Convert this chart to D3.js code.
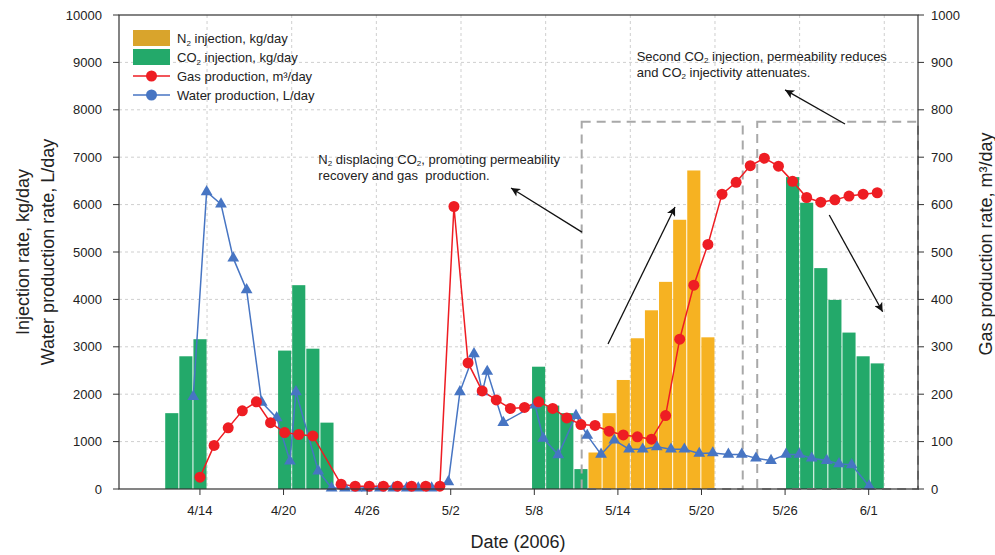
<!DOCTYPE html>
<html>
<head>
<meta charset="utf-8">
<script src="https://cdn.jsdelivr.net/npm/d3@7"></script>
<style>
  body { margin: 0; background: #fff; }
  svg { font-family: "Liberation Sans", Arial, sans-serif; }
  text { white-space: pre; }
</style>
</head>
<body>
<script>
// days are counted from 31 March 2006: 4/14 = 14, 5/2 = 32, 6/1 = 62
var tickDays = [14, 20, 26, 32, 38, 44, 50, 56, 62];
var tickLabels = ["4/14", "4/20", "4/26", "5/2", "5/8", "5/14", "5/20", "5/26", "6/1"];

var co2Days = [12, 13, 14, 20, 21, 22, 23, 38, 39, 40, 41, 56, 57, 58, 59, 60, 61, 62];
var co2Values = [1600, 2800, 3160, 2920, 4300, 2960, 1400, 2580, 1760, 1600, 420,
  6580, 6040, 4660, 3990, 3300, 2800, 2650];

var n2Days = [42, 43, 44, 45, 46, 47, 48, 49, 50];
var n2Values = [770, 1600, 2300, 3180, 3770, 4370, 5680, 6720, 3200];

var gasDays = [14, 15, 16, 17, 18, 19, 20, 21, 22,
  24, 25, 26, 27, 28, 29, 30, 31, 32, 33, 34, 35, 36, 37, 38, 39, 40, 41, 42, 43,
  44, 45, 46, 47, 48, 49, 50, 51, 52, 53, 54, 55, 56, 57, 58, 59, 60, 61, 62];
var gasValues = [25, 92, 129, 165, 184, 140, 119, 115, 112,
  10, 6, 6, 6, 6, 6, 6, 6, 596, 266, 207, 188, 170, 172, 184, 170, 150, 136, 134, 122,
  114, 110, 105, 155, 316, 430, 516, 622, 647, 682, 698, 681, 649, 615, 605, 610, 618, 622, 625];

// water samples were logged at irregular times
var waterDays = [13.52, 14.48, 15.51, 16.39, 17.35, 18.43, 19.51, 20.46, 20.89, 22.49,
  23.45, 24.41, 25.25, 25.97, 26.92, 27.88, 28.84, 29.67, 30.63, 31.83,
  32.66, 33.67, 34.27, 34.62, 35.77, 38.05, 38.64, 39.72, 40.99, 41.80,
  42.79, 43.74, 44.80, 45.78, 46.79, 47.81, 48.77, 49.84, 50.81, 51.93,
  52.89, 53.91, 54.99, 56.07, 57.02, 57.91, 58.99, 59.87, 60.78, 62.03];
var waterValues = [1950, 6270, 6010, 4870, 4200, 1830, 1500, 590, 2050, 380,
  20, 20, 20, 20, 20, 20, 20, 20, 20, 150,
  2050, 2850, 2050, 2480, 1400, 1770, 1070, 720, 1550, 1130,
  730, 1030, 840, 840, 890, 840, 840, 750, 760, 730,
  730, 650, 600, 730, 730, 650, 600, 530, 510, 60];

var CHART = {
  w: 995,
  h: 555,
  left: 119,
  right: 918,
  top: 15,
  bottom: 489,

  colors: {
    n2: "#F6B222",
    n2Legend: "#D9A42C",
    co2: "#23A96A",
    gas: "#EE1D23",
    water: "#4775C3",
    grid: "#cfcfcf",
    box: "#a8a8a8"
  },

  init: function() {
    this.svg = d3.select("body")
      .append("svg")
      .attr("width", this.w)
      .attr("height", this.h);

    // axis scale for dates, and the daily scale used by bars and gas points
    this.x = d3.scaleLinear().domain([8.19, 65.54]).range([this.left, this.right]);
    this.xDay = d3.scaleLinear().domain([8.26, 64.89]).range([this.left, this.right]);
    this.yL = d3.scaleLinear().domain([0, 10000]).range([this.bottom, this.top]);
    this.yR = d3.scaleLinear().domain([0, 1000]).range([this.bottom, this.top]);

    this.defs();
    this.drawGrid();
    this.drawBars();
    this.drawBoxes();
    this.drawLines();
    this.drawAxes();
    this.drawNotes();
    this.drawLegend();
  },

  rich: function(sel, str) {
    // "_2" in a string means a subscript digit
    var parts = str.split(/(_\d)/);
    var shifted = false;
    parts.forEach(function(p) {
      if (!p) return;
      if (p.charAt(0) === "_") {
        sel.append("tspan").attr("font-size", "0.62em").attr("dy", 2.5).text(p.slice(1));
        shifted = true;
      } else {
        sel.append("tspan").attr("dy", shifted ? -2.5 : 0).text(p);
        shifted = false;
      }
    });
  },

  defs: function() {
    this.svg.append("defs")
      .append("marker")
      .attr("id", "head")
      .attr("viewBox", "0 0 10 10")
      .attr("refX", 10)
      .attr("refY", 5)
      .attr("markerWidth", 12)
      .attr("markerHeight", 9)
      .attr("markerUnits", "userSpaceOnUse")
      .attr("orient", "auto")
      .append("path")
      .attr("d", "M0,0 L10,5 L0,10 L2.5,5 Z")
      .attr("fill", "#111");
  },

  drawGrid: function() {
    var self = this;
    var g = this.svg.append("g");

    g.selectAll("line.h")
      .data(d3.range(1000, 10000, 1000))
      .enter()
      .append("line")
      .attr("x1", this.left)
      .attr("x2", this.right)
      .attr("y1", function(d) { return self.yL(d); })
      .attr("y2", function(d) { return self.yL(d); })
      .attr("stroke", this.colors.grid)
      .attr("stroke-dasharray", "3,3");

    // vertical grid sits on the day boundaries after each labelled date
    g.selectAll("line.v")
      .data(tickDays)
      .enter()
      .append("line")
      .attr("x1", function(d) { return self.xDay(d + 0.5); })
      .attr("x2", function(d) { return self.xDay(d + 0.5); })
      .attr("y1", this.top)
      .attr("y2", this.bottom)
      .attr("stroke", this.colors.grid)
      .attr("stroke-dasharray", "3,3");
  },

  drawBars: function() {
    var self = this;
    var bw = this.xDay(1) - this.xDay(0) - 1;

    this.svg.append("g")
      .selectAll("rect")
      .data(n2Days)
      .enter()
      .append("rect")
      .attr("x", function(d) { return self.xDay(d) - bw / 2; })
      .attr("y", function(d, i) { return self.yL(n2Values[i]); })
      .attr("width", bw)
      .attr("height", function(d, i) { return self.bottom - self.yL(n2Values[i]); })
      .attr("fill", this.colors.n2);

    this.svg.append("g")
      .selectAll("rect")
      .data(co2Days)
      .enter()
      .append("rect")
      .attr("x", function(d) { return self.xDay(d) - bw / 2; })
      .attr("y", function(d, i) { return self.yL(co2Values[i]); })
      .attr("width", bw)
      .attr("height", function(d, i) { return self.bottom - self.yL(co2Values[i]); })
      .attr("fill", this.colors.co2);
  },

  drawBoxes: function() {
    var self = this;
    var boxes = [[41.4, 52.96], [54.0, 65.54]];
    this.svg.append("g")
      .selectAll("rect")
      .data(boxes)
      .enter()
      .append("rect")
      .attr("x", function(d) { return self.x(d[0]); })
      .attr("y", this.yL(7750))
      .attr("width", function(d) { return self.x(d[1]) - self.x(d[0]); })
      .attr("height", this.bottom - this.yL(7750))
      .attr("fill", "none")
      .attr("stroke", this.colors.box)
      .attr("stroke-width", 2)
      .attr("stroke-dasharray", "9,6");
  },

  drawLines: function() {
    var self = this;

    var gas = gasDays.map(function(d, i) { return [self.xDay(d), self.yR(gasValues[i])]; });
    var water = waterDays.map(function(d, i) { return [self.x(d), self.yL(waterValues[i])]; });

    this.svg.append("path")
      .attr("d", d3.line()(water))
      .attr("fill", "none")
      .attr("stroke", this.colors.water)
      .attr("stroke-width", 1.5);

    this.svg.append("path")
      .attr("d", d3.line()(gas))
      .attr("fill", "none")
      .attr("stroke", this.colors.gas)
      .attr("stroke-width", 1.5);

    this.svg.append("g")
      .selectAll("path")
      .data(water)
      .enter()
      .append("path")
      .attr("d", d3.symbol().type(d3.symbolTriangle).size(60))
      .attr("transform", function(d) { return "translate(" + d[0] + "," + d[1] + ")"; })
      .attr("fill", this.colors.water);

    this.svg.append("g")
      .selectAll("circle")
      .data(gas)
      .enter()
      .append("circle")
      .attr("cx", function(d) { return d[0]; })
      .attr("cy", function(d) { return d[1]; })
      .attr("r", 5.5)
      .attr("fill", this.colors.gas);
  },

  drawAxes: function() {
    var self = this;
    var g = this.svg.append("g").attr("font-size", "13px").attr("fill", "#222");

    g.append("rect")
      .attr("x", this.left)
      .attr("y", this.top)
      .attr("width", this.right - this.left)
      .attr("height", this.bottom - this.top)
      .attr("fill", "none")
      .attr("stroke", "#333")
      .attr("stroke-width", 1.2);

    var leftTicks = d3.range(0, 10001, 1000);
    g.selectAll("line.lt")
      .data(leftTicks)
      .enter()
      .append("line")
      .attr("x1", this.left - 6)
      .attr("x2", this.left)
      .attr("y1", function(d) { return self.yL(d); })
      .attr("y2", function(d) { return self.yL(d); })
      .attr("stroke", "#333");
    g.selectAll("text.lt")
      .data(leftTicks)
      .enter()
      .append("text")
      .text(function(d) { return d; })
      .attr("x", this.left - 17)
      .attr("y", function(d) { return self.yL(d) + 4.5; })
      .attr("text-anchor", "end");

    var rightTicks = d3.range(0, 1001, 100);
    g.selectAll("line.rt")
      .data(rightTicks)
      .enter()
      .append("line")
      .attr("x1", this.right)
      .attr("x2", this.right + 6)
      .attr("y1", function(d) { return self.yR(d); })
      .attr("y2", function(d) { return self.yR(d); })
      .attr("stroke", "#333");
    g.selectAll("text.rt")
      .data(rightTicks)
      .enter()
      .append("text")
      .text(function(d) { return d; })
      .attr("x", this.right + 13)
      .attr("y", function(d) { return self.yR(d) + 4.5; });

    g.selectAll("line.bt")
      .data(tickDays)
      .enter()
      .append("line")
      .attr("x1", function(d) { return self.x(d); })
      .attr("x2", function(d) { return self.x(d); })
      .attr("y1", this.bottom)
      .attr("y2", this.bottom + 6)
      .attr("stroke", "#333");
    g.selectAll("text.bt")
      .data(tickDays)
      .enter()
      .append("text")
      .text(function(d, i) { return tickLabels[i]; })
      .attr("x", function(d) { return self.x(d); })
      .attr("y", this.bottom + 26)
      .attr("text-anchor", "middle");

    var titles = this.svg.append("g").attr("font-size", "18px").attr("fill", "#222");
    titles.append("text")
      .text("Date (2006)")
      .attr("x", 518)
      .attr("y", 548)
      .attr("text-anchor", "middle");
    titles.append("text")
      .text("Injection rate, kg/day")
      .attr("transform", "translate(29,252) rotate(-90)")
      .attr("text-anchor", "middle");
    titles.append("text")
      .text("Water production rate, L/day")
      .attr("transform", "translate(54,252) rotate(-90)")
      .attr("text-anchor", "middle");
    titles.append("text")
      .text("Gas production rate, m³/day")
      .attr("transform", "translate(992,244) rotate(-90)")
      .attr("text-anchor", "middle");
  },

  drawNotes: function() {
    var self = this;
    var g = this.svg.append("g").attr("font-size", "13px").attr("fill", "#222");

    var notes = [
      { day: 22.5, value: 6860, lines: ["N_2 displacing CO_2, promoting permeability", "recovery and gas  production."] },
      { day: 45.35, value: 9030, lines: ["Second CO_2 injection, permeability reduces", "and CO_2 injectivity attenuates."] }
    ];
    notes.forEach(function(n) {
      n.lines.forEach(function(line, i) {
        var t = g.append("text")
          .attr("x", self.x(n.day))
          .attr("y", self.yL(n.value) + i * 16);
        self.rich(t, line);
      });
    });

    var arrows = [
      [41.42, 5420, 36.33, 6350],
      [43.29, 3060, 48.1, 5950],
      [60.3, 7700, 56.0, 8420],
      [59.17, 5780, 63.0, 3740]
    ];
    g.selectAll("line.arrow")
      .data(arrows)
      .enter()
      .append("line")
      .attr("x1", function(d) { return self.x(d[0]); })
      .attr("y1", function(d) { return self.yL(d[1]); })
      .attr("x2", function(d) { return self.x(d[2]); })
      .attr("y2", function(d) { return self.yL(d[3]); })
      .attr("stroke", "#111")
      .attr("stroke-width", 1.3)
      .attr("marker-end", "url(#head)");
  },

  drawLegend: function() {
    var self = this;
    var items = [
      { label: "N_2 injection, kg/day", kind: "bar", color: this.colors.n2Legend },
      { label: "CO_2 injection, kg/day", kind: "bar", color: this.colors.co2 },
      { label: "Gas production, m³/day", kind: "circle", color: this.colors.gas },
      { label: "Water production, L/day", kind: "circle", color: this.colors.water }
    ];

    var g = this.svg.append("g").attr("font-size", "13px").attr("fill", "#222");
    items.forEach(function(it, i) {
      var cy = 38 + i * 19;
      if (it.kind === "bar") {
        g.append("rect")
          .attr("x", 133)
          .attr("y", cy - 8)
          .attr("width", 37)
          .attr("height", 16)
          .attr("fill", it.color);
      } else {
        g.append("line")
          .attr("x1", 133)
          .attr("x2", 170)
          .attr("y1", cy)
          .attr("y2", cy)
          .attr("stroke", it.color)
          .attr("stroke-width", 1.5);
        g.append("circle")
          .attr("cx", 151.5)
          .attr("cy", cy)
          .attr("r", 5.5)
          .attr("fill", it.color);
      }
      var t = g.append("text").attr("x", 177).attr("y", cy + 5);
      self.rich(t, it.label);
    });
  }
};

CHART.init();
</script>
</body>
</html>
